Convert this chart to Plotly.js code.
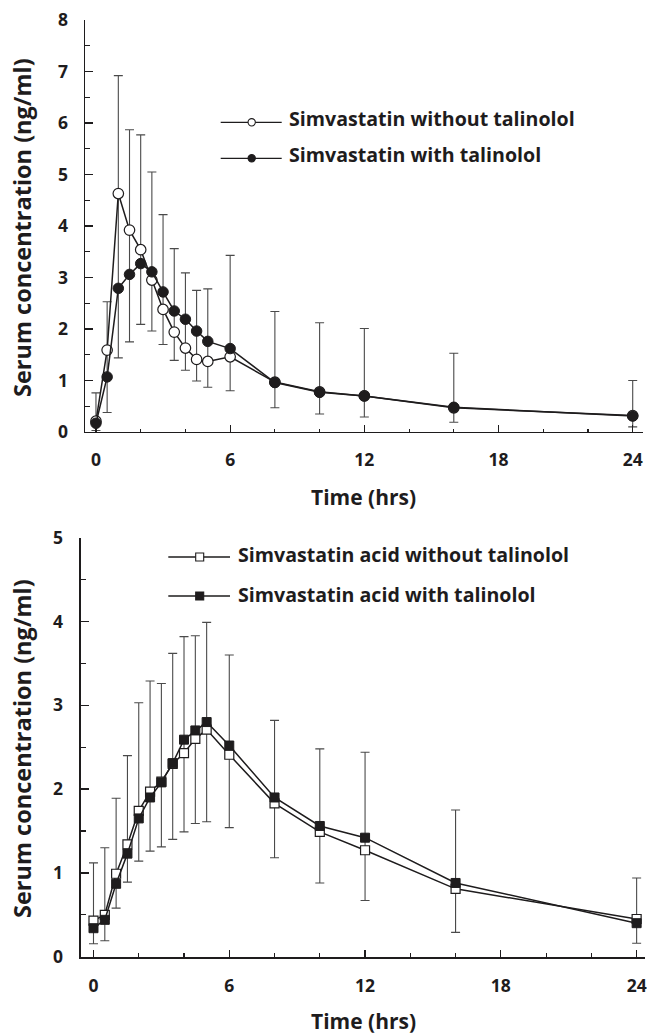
<!DOCTYPE html>
<html>
<head>
<meta charset="utf-8">
<script src="https://cdn.plot.ly/plotly-3.0.1.min.js"></script>
<style>
  html, body { margin: 0; padding: 0; background: #fff; }
  #chart { width: 647px; height: 1036px; }
</style>
</head>
<body>
<div id="chart"></div>
<script>
// ---- Data ----
const timeHours = [0, 0.5, 1, 1.5, 2, 2.5, 3, 3.5, 4, 4.5, 5, 6, 8, 10, 12, 16, 24];

// Top panel: simvastatin
const simWithout = [0.21, 1.59, 4.63, 3.92, 3.54, 2.95, 2.38, 1.94, 1.63, 1.41, 1.37, 1.46, 0.97, 0.78, 0.70, 0.47, 0.32];
const simWith    = [0.17, 1.07, 2.79, 3.06, 3.27, 3.11, 2.72, 2.35, 2.19, 1.96, 1.76, 1.62, 0.96, 0.77, 0.70, 0.48, 0.31];
const simBarHigh = [0.76, 2.53, 6.92, 5.87, 5.77, 5.05, 4.22, 3.56, 3.09, 2.75, 2.78, 3.43, 2.34, 2.12, 2.01, 1.53, 1.00];
const simBarLow  = [0.03, 0.38, 1.44, 1.75, 2.09, 1.96, 1.70, 1.39, 1.20, 0.99, 0.87, 0.80, 0.47, 0.35, 0.29, 0.19, 0.10];

// Bottom panel: simvastatin acid
const acidWithout = [0.43, 0.50, 0.99, 1.34, 1.74, 1.97, 2.09, 2.30, 2.43, 2.60, 2.71, 2.41, 1.83, 1.49, 1.27, 0.81, 0.45];
const acidWith    = [0.34, 0.44, 0.87, 1.23, 1.65, 1.90, 2.08, 2.31, 2.59, 2.70, 2.80, 2.52, 1.90, 1.56, 1.42, 0.88, 0.40];
const acidBarHigh = [1.12, 1.30, 1.89, 2.40, 3.03, 3.29, 3.26, 3.62, 3.82, 3.83, 3.99, 3.60, 2.82, 2.48, 2.44, 1.75, 0.94];
const acidBarLow  = [0.155, 0.19, 0.58, 0.89, 1.14, 1.26, 1.31, 1.40, 1.49, 1.59, 1.61, 1.54, 1.18, 0.88, 0.67, 0.29, 0.16];

const xTickVals = [0, 6, 12, 18, 24];
const xTickText = ['0', '6', '12', '18', '24'];
const labelsTop = ['Simvastatin without talinolol', 'Simvastatin with talinolol'];
const labelsBottom = ['Simvastatin acid without talinolol', 'Simvastatin acid with talinolol'];
const xTitle = 'Time (hrs)';
const yTitle = 'Serum concentration (ng/ml)';

// ---- Helpers ----
const W = 647, H = 1036;
const PX = p => p / W;
const PY = p => 1 - p / H;
const INK = '#1e1c1d';
const FONT = 'Open Sans';

function errFor(y, hi, lo) {
  return {
    type: 'data', symmetric: false,
    array: hi.map((v, i) => v - y[i]),
    arrayminus: lo.map((v, i) => y[i] - v),
    color: '#4a4a4a', thickness: 1.1, width: 4.5
  };
}

const traces = [
  {
    x: timeHours, y: simWithout, xaxis: 'x', yaxis: 'y', type: 'scatter', mode: 'lines+markers',
    name: labelsTop[0], cliponaxis: false,
    line: { color: INK, width: 1.5 },
    marker: { symbol: 'circle', size: 10.5, color: '#fff', line: { color: INK, width: 1.2 } },
    error_y: errFor(simWithout, simBarHigh, simBarLow)
  },
  {
    x: timeHours, y: simWith, xaxis: 'x', yaxis: 'y', type: 'scatter', mode: 'lines+markers',
    name: labelsTop[1], cliponaxis: false,
    line: { color: INK, width: 1.5 },
    marker: { symbol: 'circle', size: 10.5, color: INK, line: { color: INK, width: 1 } }
  },
  {
    x: timeHours, y: acidWithout, xaxis: 'x2', yaxis: 'y2', type: 'scatter', mode: 'lines+markers',
    name: labelsBottom[0], cliponaxis: false,
    line: { color: INK, width: 1.5 },
    marker: { symbol: 'square', size: 9, color: '#fff', line: { color: INK, width: 1.2 } },
    error_y: errFor(acidWithout, acidBarHigh, acidBarLow)
  },
  {
    x: timeHours, y: acidWith, xaxis: 'x2', yaxis: 'y2', type: 'scatter', mode: 'lines+markers',
    name: labelsBottom[1], cliponaxis: false,
    line: { color: INK, width: 1.5 },
    marker: { symbol: 'square', size: 9, color: INK, line: { color: INK, width: 1 } }
  }
];

const tickFont = { family: FONT, size: 17.5, color: INK, weight: 'bold' };

function xAxis(domain, range, lw) {
  return {
    domain: domain, range: range,
    tickmode: 'array', tickvals: xTickVals, ticktext: xTickText,
    ticks: 'inside', ticklen: 7, tickwidth: 1.2, tickcolor: INK,
    minor: { tickmode: 'linear', tick0: 0, dtick: 2, ticks: 'inside', ticklen: 3.5, tickwidth: 1.1, tickcolor: INK },
    showline: true, linecolor: INK, linewidth: lw,
    showgrid: false, zeroline: false, tickfont: tickFont,
    ticklabelstandoff: 12, fixedrange: true
  };
}
function yAxis(domain, range, lw) {
  return {
    domain: domain, range: range,
    tickmode: 'linear', tick0: 0, dtick: 1,
    ticks: 'inside', ticklen: 8, tickwidth: 1.2, tickcolor: INK,
    minor: { tickmode: 'linear', tick0: 0, dtick: 0.5, ticks: 'inside', ticklen: 5, tickwidth: 1.1, tickcolor: INK },
    showline: true, linecolor: INK, linewidth: lw,
    showgrid: false, zeroline: false, tickfont: tickFont,
    ticklabelstandoff: 12, fixedrange: true
  };
}

const xa1 = xAxis([PX(85), PX(643)], [-0.49, 24.46], 1.4); xa1.anchor = 'y';
const ya1 = yAxis([PY(432), PY(20)], [0, 8], 1.4); ya1.anchor = 'x';
const xa2 = xAxis([PX(81), PX(645)], [-0.552, 24.37], 2.4); xa2.anchor = 'y2';
const ya2 = yAxis([PY(956.7), PY(537.7)], [0, 5], 2.4); ya2.anchor = 'x2';

const yTitleFont = { family: FONT, size: 23.5, color: INK, weight: 'bold' };
const xTitleFont = { family: FONT, size: 21, color: INK, weight: 'bold' };
const legFont = { family: FONT, size: 19.6, color: INK, weight: 'bold' };

const annotations = [
  { text: yTitle, xref: 'paper', yref: 'paper', x: PX(22), y: PY(228), textangle: -90, showarrow: false, font: yTitleFont, xanchor: 'center', yanchor: 'middle' },
  { text: yTitle, xref: 'paper', yref: 'paper', x: PX(22), y: PY(749), textangle: -90, showarrow: false, font: yTitleFont, xanchor: 'center', yanchor: 'middle' },
  { text: xTitle, xref: 'paper', yref: 'paper', x: PX(364), y: PY(497), showarrow: false, font: xTitleFont, xanchor: 'center', yanchor: 'middle' },
  { text: xTitle, xref: 'paper', yref: 'paper', x: PX(363), y: PY(1021), showarrow: false, font: xTitleFont, xanchor: 'center', yanchor: 'middle' },
  { text: labelsTop[0], xref: 'paper', yref: 'paper', x: PX(287), y: PY(118), showarrow: false, font: legFont, xanchor: 'left', yanchor: 'middle' },
  { text: labelsTop[1], xref: 'paper', yref: 'paper', x: PX(287), y: PY(155), showarrow: false, font: legFont, xanchor: 'left', yanchor: 'middle' },
  { text: labelsBottom[0], xref: 'paper', yref: 'paper', x: PX(235.5), y: PY(554), showarrow: false, font: legFont, xanchor: 'left', yanchor: 'middle' },
  { text: labelsBottom[1], xref: 'paper', yref: 'paper', x: PX(235.5), y: PY(594), showarrow: false, font: legFont, xanchor: 'left', yanchor: 'middle' }
];

function legLine(x0, x1, y) {
  return { type: 'line', xref: 'paper', yref: 'paper', x0: PX(x0), x1: PX(x1), y0: PY(y), y1: PY(y), line: { color: INK, width: 1.3 } };
}
function legMark(type, cx, cy, s, fill) {
  return { type: type, xref: 'paper', yref: 'paper', x0: PX(cx - s / 2), x1: PX(cx + s / 2), y0: PY(cy + s / 2), y1: PY(cy - s / 2), fillcolor: fill, line: { color: INK, width: 1.1 } };
}

const shapes = [
  legLine(220.7, 281.7, 122.3), legMark('circle', 251.7, 122.3, 7.3, '#fff'),
  legLine(220.7, 281.7, 158.3), legMark('circle', 251.7, 158.3, 7.3, INK),
  legLine(168.3, 230, 557), legMark('rect', 199.7, 557, 8, '#fff'),
  legLine(168.3, 230, 596), legMark('rect', 199.7, 596, 8, INK)
];

const layout = {
  width: W, height: H,
  margin: { l: 0, r: 0, t: 0, b: 0 },
  paper_bgcolor: '#fff', plot_bgcolor: '#fff',
  showlegend: false,
  xaxis: xa1, yaxis: ya1, xaxis2: xa2, yaxis2: ya2,
  annotations: annotations, shapes: shapes,
  font: { family: FONT, color: INK }
};

Plotly.newPlot('chart', traces, layout, { staticPlot: true, displayModeBar: false });
</script>
</body>
</html>
